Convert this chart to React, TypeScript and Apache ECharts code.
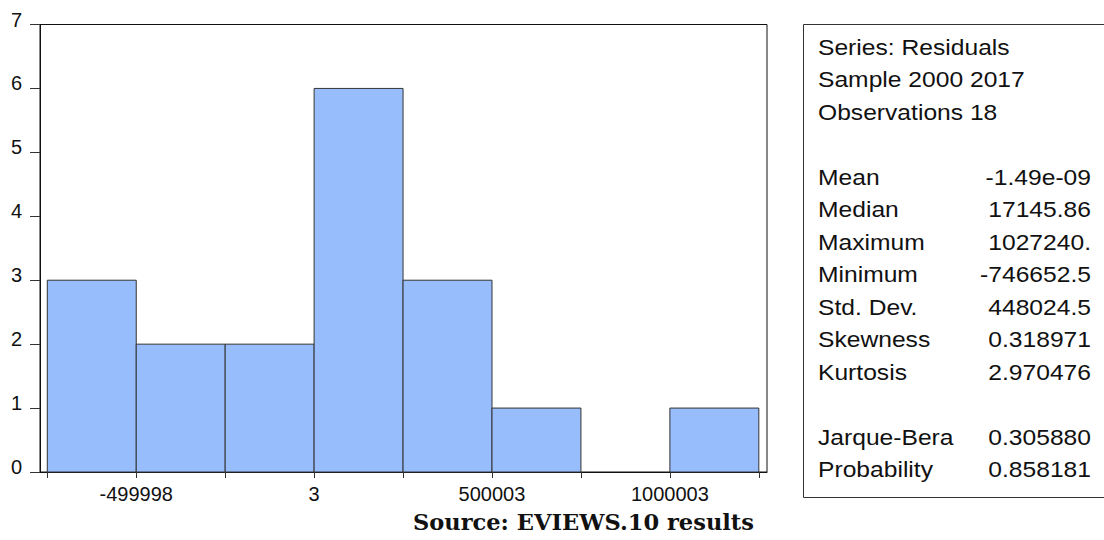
import React, { useEffect, useRef } from "react";
import * as echarts from "echarts";

// Histogram bins (edges) and observation counts
const binEdges = [-749997.5, -499997.5, -249997.5, 2.5, 250002.5, 500002.5, 750002.5, 1000002.5, 1250002.5];
const counts = [3, 2, 2, 6, 3, 1, 0, 1];

// Labeled x ticks and their texts
const xLabelValues = [-499997.5, 2.5, 500002.5, 1000002.5];
const xLabelTexts = ["-499998", "3", "500003", "1000003"];

// Statistics panel
const headerLines = ["Series: Residuals", "Sample 2000 2017", "Observations 18"];
const statNames = ["Mean", "Median", "Maximum", "Minimum", "Std. Dev.", "Skewness", "Kurtosis"];
const statValues = ["-1.49e-09", "17145.86", "1027240.", "-746652.5", "448024.5", "0.318971", "2.970476"];
const testNames = ["Jarque-Bera", "Probability"];
const testValues = ["0.305880", "0.858181"];

const sourceText = "Source: EVIEWS.10 results";

export default function App() {
  const ref = useRef<HTMLDivElement>(null);

  useEffect(() => {
    if (!ref.current) return;
    const chart = echarts.init(ref.current, undefined, { renderer: "svg" });

    const data = counts.map((c, i) => [binEdges[i], binEdges[i + 1], c]);

    const font = "'Liberation Sans', Arial, sans-serif";
    const rowH = 32.5;
    const top0 = 47;
    const graphics: any[] = [
      {
        type: "rect",
        shape: { x: 803.5, y: 24.5, width: 320, height: 473 },
        style: { fill: "#fff", stroke: "#333", lineWidth: 1 },
      },
    ];
    const addText = (text: string, x: number, y: number, align: string) => {
      graphics.push({
        type: "text",
        x,
        y,
        scaleX: 1.12,
        style: {
          text,
          fontFamily: font,
          fontSize: 22,
          fill: "#111",
          align,
          verticalAlign: "middle",
        },
      });
    };
    headerLines.forEach((t, i) => addText(t, 818, top0 + i * rowH, "left"));
    statNames.forEach((t, i) => {
      addText(t, 818, top0 + (4 + i) * rowH, "left");
      addText(statValues[i], 1091, top0 + (4 + i) * rowH, "right");
    });
    testNames.forEach((t, i) => {
      addText(t, 818, top0 + (12 + i) * rowH, "left");
      addText(testValues[i], 1091, top0 + (12 + i) * rowH, "right");
    });
    graphics.push({
      type: "text",
      x: 413,
      y: 522,
      scaleX: 0.98,
      style: {
        text: sourceText,
        fontFamily: "'DejaVu Serif', serif",
        fontWeight: "bold",
        fontSize: 23,
        fill: "#111",
        align: "left",
        verticalAlign: "middle",
      },
    });

    chart.setOption({
      animation: false,
      grid: {
        left: 40,
        top: 24.5,
        right: 337,
        bottom: 68,
        show: true,
        borderColor: "#111",
        borderWidth: 1,
        backgroundColor: "#fff",
      },
      xAxis: {
        type: "value",
        min: -770500,
        max: 1273000,
        axisLine: { show: true, onZero: false, lineStyle: { color: "#111", width: 1 } },
        axisTick: {
          show: true,
          length: 6,
          customValues: binEdges,
          lineStyle: { color: "#333" },
        },
        axisLabel: {
          customValues: xLabelValues,
          formatter: (v: number) => {
            const idx = xLabelValues.findIndex((x) => Math.abs(x - v) < 1);
            return idx >= 0 ? xLabelTexts[idx] : "";
          },
          fontFamily: font,
          fontSize: 20,
          color: "#111",
          margin: 12,
        },
        splitLine: { show: false },
      },
      yAxis: {
        type: "value",
        min: 0,
        max: 7,
        interval: 1,
        axisLine: { show: true, onZero: false, lineStyle: { color: "#111", width: 1 } },
        axisTick: { show: true, length: 10, lineStyle: { color: "#333" } },
        axisLabel: {
          fontFamily: font,
          fontSize: 20,
          color: "#111",
          margin: 18,
          verticalAlign: "bottom",
          lineHeight: 10,
        },
        splitLine: { show: false },
      },
      series: [
        {
          type: "custom",
          renderItem: (params: any, api: any) => {
            const x0 = api.value(0);
            const x1 = api.value(1);
            const c = api.value(2);
            if (!c) return null;
            const p0 = api.coord([x0, c]);
            const p1 = api.coord([x1, 0]);
            return {
              type: "rect",
              shape: { x: p0[0], y: p0[1], width: p1[0] - p0[0], height: p1[1] - p0[1] },
              style: { fill: "#97BDFD", stroke: "#333", lineWidth: 1 },
            };
          },
          encode: { x: [0, 1], y: 2 },
          data,
        },
      ],
      graphic: graphics,
    });

    return () => chart.dispose();
  }, []);

  return (
    <div
      ref={ref}
      style={{ position: "fixed", left: 0, top: 0, width: 1104, height: 540, background: "#fff" }}
    />
  );
}
